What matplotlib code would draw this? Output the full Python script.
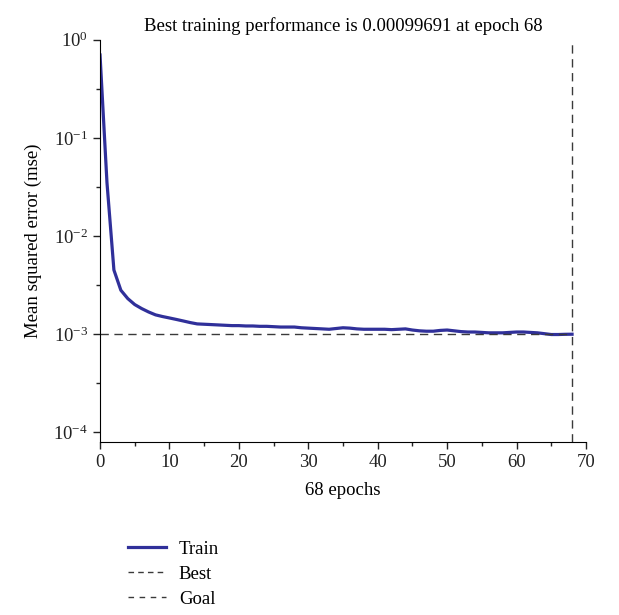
import matplotlib
matplotlib.use("Agg")
import matplotlib.pyplot as plt
from matplotlib.ticker import FixedLocator, MultipleLocator, LogLocator, NullFormatter
from matplotlib.lines import Line2D

plt.rcParams['font.family'] = ['Liberation Serif', 'DejaVu Serif']
plt.rcParams['mathtext.fontset'] = 'custom'
plt.rcParams['mathtext.rm'] = 'Liberation Serif'
plt.rcParams['mathtext.it'] = 'Liberation Serif:italic'

# training error per epoch
epochs = list(range(0, 69))
train_mse = [
    0.70, 0.035, 0.0045, 0.0028, 0.0023, 0.0020, 0.00182, 0.00168, 0.00157, 0.00151,
    0.00146, 0.00141, 0.00136, 0.00131, 0.00127, 0.00126, 0.00125, 0.00124, 0.00123, 0.00122,
    0.00122, 0.00121, 0.00121, 0.00120, 0.00120, 0.00119, 0.00118, 0.00118, 0.00118, 0.00116,
    0.00115, 0.00114, 0.00113, 0.00112, 0.00114, 0.00116, 0.00115, 0.00113, 0.00112, 0.00112,
    0.00112, 0.00112, 0.00111, 0.00112, 0.00113, 0.00110, 0.00108, 0.00107, 0.00107, 0.00109,
    0.00110, 0.00108, 0.00106, 0.00105, 0.00105, 0.00104, 0.00103, 0.00103, 0.00103, 0.00104,
    0.00105, 0.00105, 0.00104, 0.00103, 0.00101, 0.00099, 0.00099, 0.000995, 0.000997,
]
goal = 1e-3
best_epoch = 68
title = "Best training performance is 0.00099691 at epoch 68"

fig = plt.figure(figsize=(6.19, 6.15), dpi=100)
ax = fig.add_axes([0.1616, 0.2813, 0.785, 0.654])

blue = '#30309a'
grey = '#3a3a3a'
ax.plot(epochs, train_mse, color=blue, lw=2.3, solid_joinstyle='round')
ax.hlines(goal, 0, best_epoch, color=grey, lw=1.0, ls=(0, (6, 4)))
ax.axvline(best_epoch, color=grey, lw=1.0, ls=(0, (6, 4)))

ax.set_yscale('log')
ax.set_xlim(0, 70)
ax.set_ylim(10 ** -4.1, 1.0)

ax.xaxis.set_major_locator(MultipleLocator(10))
ax.xaxis.set_minor_locator(MultipleLocator(5))
ax.yaxis.set_major_locator(LogLocator(base=10, numticks=10))
ax.yaxis.set_minor_locator(FixedLocator([10 ** (-k - 0.5) for k in range(4)]))
ax.yaxis.set_minor_formatter(NullFormatter())

for side in ['top', 'right']:
    ax.spines[side].set_visible(False)
ax.tick_params(which='major', direction='out', length=5, width=1, labelsize=13.5, colors='#222222')
ax.tick_params(which='minor', direction='out', length=3, width=1, colors='#222222')

ax.set_title(title, fontsize=13.5, pad=6)
ax.set_xlabel("68 epochs", fontsize=13.5, labelpad=8)
ax.set_ylabel("Mean squared error (mse)", fontsize=13.5, labelpad=8)

handles = [
    Line2D([], [], color=blue, lw=2.3),
    Line2D([], [], color=grey, lw=1.0, ls=(0, (4, 3))),
    Line2D([], [], color=grey, lw=1.0, ls=(0, (4, 4))),
]
fig.legend(handles, ['Train', 'Best', 'Goal'], loc='upper left',
           bbox_to_anchor=(0.207, 0.121), frameon=False, fontsize=13.5,
           handlelength=2.0, handletextpad=0.7, labelspacing=0.42,
           borderaxespad=0, borderpad=0)

fig.savefig('out.png', dpi=100)
